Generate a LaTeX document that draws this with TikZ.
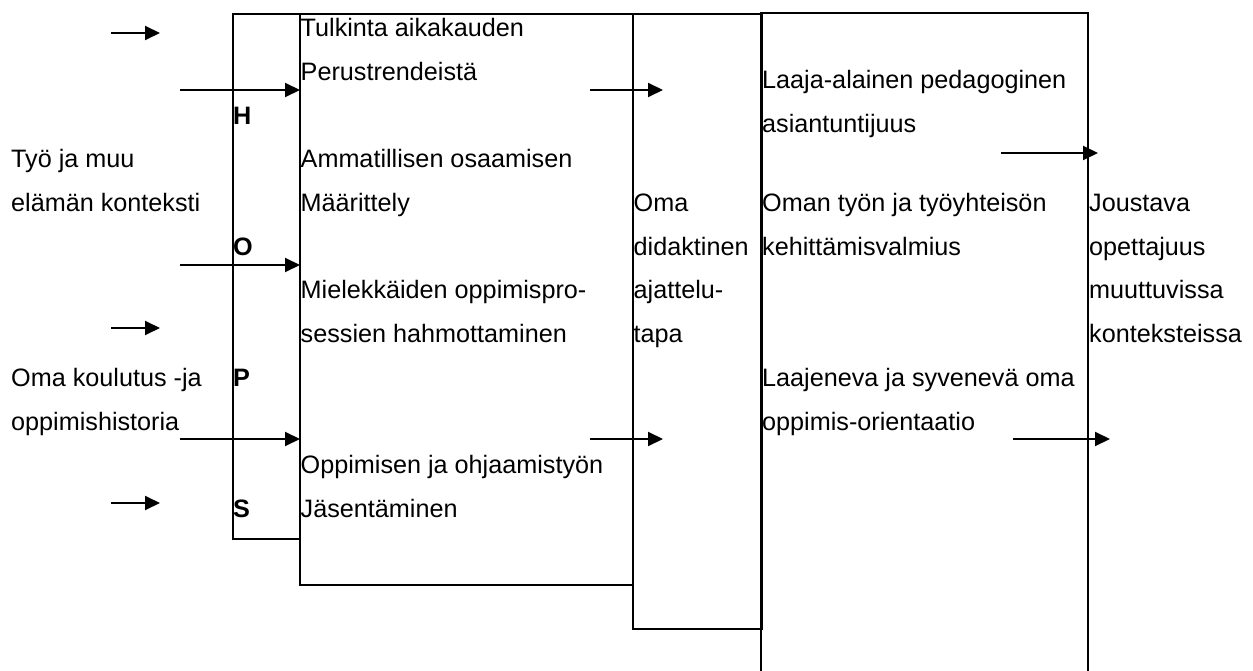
\documentclass[tikz,border=0pt]{standalone}
\usepackage{fontspec}
\setmainfont{Liberation Sans}
\usetikzlibrary{arrows.meta}
\begin{document}
\begin{tikzpicture}[x=1pt,y=-1pt,
  frame/.style={draw=black,line width=2pt},
  txt/.style={anchor=base west,inner sep=0pt,font=\fontsize{25.2}{30}\selectfont},
  btxt/.style={txt,font=\fontsize{25.2}{30}\selectfont\bfseries},
  arr/.style={line width=2pt,-{Triangle[length=15pt,width=14pt]}}]
\useasboundingbox (0,0) rectangle (1253,671);
% boxes
\node[frame,inner sep=0pt,minimum width=67pt,minimum height=525pt,anchor=north west] (hops) at (232,13) {};
\node[frame,inner sep=0pt,minimum width=333pt,minimum height=571pt,anchor=north west] (tulk) at (299,13) {};
\node[frame,inner sep=0pt,minimum width=129pt,minimum height=615pt,anchor=north west] (oma) at (632,13) {};
\coordinate (c4bl) at (761,672);
\coordinate (c4tl) at (761,13);
\coordinate (c4tr) at (1088,13);
\coordinate (c4br) at (1088,672);
\draw[line width=2pt] (c4bl) -- (c4tl) -- (c4tr) -- (c4br);
% texts column 1
\node[txt] (t1) at (11,167.8) {Työ ja muu};
\node[txt] (t2) at (11,211.5) {elämän konteksti};
\node[txt] (t3) at (11,386.3) {Oma koulutus -ja};
\node[txt] (t4) at (11,430) {oppimishistoria};
% HOPS
\node[btxt] (lh) at (233,124.1) {H};
\node[btxt] (lo) at (233,255.2) {O};
\node[btxt] (lp) at (233,386.3) {P};
\node[btxt] (ls) at (233,517.4) {S};
% column 2
\node[txt] (b1) at (300.5,36.7) {Tulkinta aikakauden};
\node[txt] (b2) at (300.5,80.4) {Perustrendeistä};
\node[txt] (b3) at (300.5,167.8) {Ammatillisen osaamisen};
\node[txt] (b4) at (300.5,211.5) {Määrittely};
\node[txt] (b5) at (300.5,298.9) {Mielekkäiden oppimispro-};
\node[txt] (b6) at (300.5,342.6) {sessien hahmottaminen};
\node[txt] (b7) at (300.5,473.7) {Oppimisen ja ohjaamistyön};
\node[txt] (b8) at (300.5,517.4) {Jäsentäminen};
% Oma column
\node[txt] (o1) at (633.5,211.5) {Oma};
\node[txt] (o2) at (633.5,255.2) {didaktinen};
\node[txt] (o3) at (633.5,298.9) {ajattelu-};
\node[txt] (o4) at (633.5,342.6) {tapa};
% column 4
\node[txt] (d1) at (762,89) {Laaja-alainen pedagoginen};
\node[txt] (d2) at (762,132.7) {asiantuntijuus};
\node[txt] (d3) at (762,211.5) {Oman työn ja työyhteisön};
\node[txt] (d4) at (762,255.2) {kehittämisvalmius};
\node[txt] (d5) at (762,386.3) {Laajeneva ja syvenevä oma};
\node[txt] (d6) at (762,430) {oppimis-orientaatio};
% column 5
\node[txt] (e1) at (1089,211.5) {Joustava};
\node[txt] (e2) at (1089,255.2) {opettajuus};
\node[txt] (e3) at (1089,298.9) {muuttuvissa};
\node[txt] (e4) at (1089,342.6) {konteksteissa};
% arrows
\coordinate (a1s) at (111,33);   \coordinate (a1e) at (160,33);
\coordinate (a2s) at (180,90);   \coordinate (a2e) at (300,90);
\coordinate (a3s) at (590,90);   \coordinate (a3e) at (663,90);
\coordinate (a4s) at (1001,153); \coordinate (a4e) at (1098,153);
\coordinate (a5s) at (180,265);  \coordinate (a5e) at (300,265);
\coordinate (a6s) at (111,328);  \coordinate (a6e) at (160,328);
\coordinate (a7s) at (180,439);  \coordinate (a7e) at (300,439);
\coordinate (a8s) at (590,439);  \coordinate (a8e) at (663,439);
\coordinate (a9s) at (1013,439); \coordinate (a9e) at (1110,439);
\coordinate (a10s) at (111,503); \coordinate (a10e) at (160,503);
\foreach \i in {1,...,10} {\draw[arr] (a\i s) -- (a\i e);}
\end{tikzpicture}
\end{document}
